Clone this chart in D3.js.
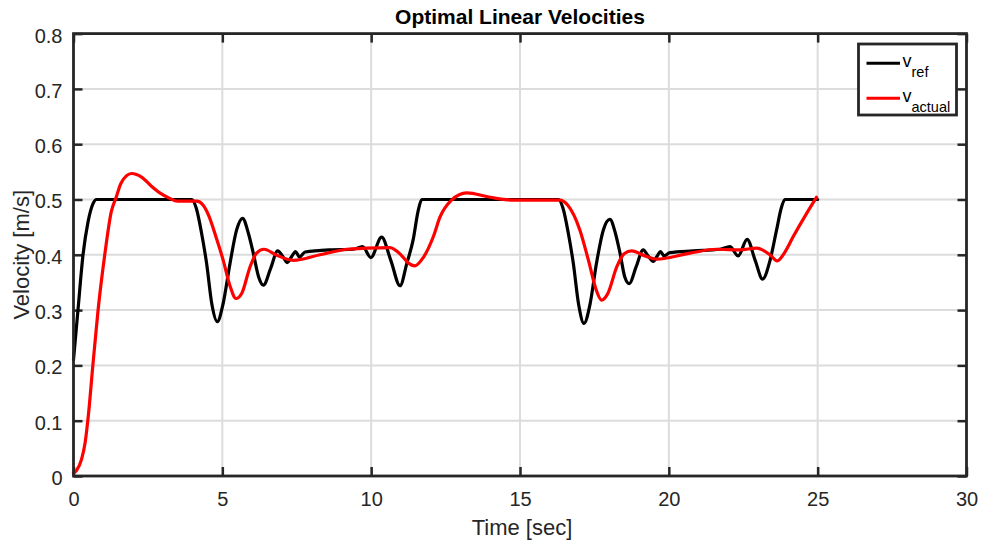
<!DOCTYPE html>
<html>
<head>
<meta charset="utf-8">
<script src="https://cdn.jsdelivr.net/npm/d3@7"></script>
<style>
  html, body { margin: 0; padding: 0; background: #fff; }
  svg { display: block; font-family: "Liberation Sans", Arial, Helvetica, sans-serif; }
</style>
</head>
<body>
<svg id="chart" width="985" height="548"></svg>
<script>
// Reference velocity profile: [time (s), velocity (m/s)]
const vRef = [
  [0, 0.21], [0.15, 0.30], [0.32, 0.40], [0.49, 0.46], [0.66, 0.493], [0.77, 0.5],
  [2.0, 0.5], [3.97, 0.5], [4.12, 0.485], [4.3, 0.44], [4.47, 0.385], [4.65, 0.31], [4.83, 0.279],
  [5.02, 0.31], [5.26, 0.385], [5.48, 0.445], [5.68, 0.466], [5.87, 0.44], [6.04, 0.403],
  [6.22, 0.36], [6.38, 0.345], [6.62, 0.375], [6.86, 0.407], [7.02, 0.398], [7.18, 0.386],
  [7.33, 0.397], [7.46, 0.406], [7.59, 0.396], [7.78, 0.405], [8.62, 0.409], [9.4, 0.41],
  [9.71, 0.415], [9.99, 0.395], [10.35, 0.432], [10.66, 0.39], [10.97, 0.344], [11.2, 0.385],
  [11.41, 0.427], [11.58, 0.48], [11.7, 0.5], [16.29, 0.5], [16.44, 0.485], [16.62, 0.44], [16.79, 0.385],
  [16.97, 0.31], [17.15, 0.276], [17.35, 0.31], [17.57, 0.385], [17.8, 0.445], [18.02, 0.464],
  [18.2, 0.44], [18.36, 0.403], [18.52, 0.36], [18.67, 0.348], [18.9, 0.378], [19.14, 0.409],
  [19.3, 0.398], [19.48, 0.388], [19.6, 0.397], [19.72, 0.406], [19.84, 0.398], [20.04, 0.404],
  [20.82, 0.407], [21.72, 0.41], [22.05, 0.415], [22.33, 0.398], [22.63, 0.428], [22.9, 0.39],
  [23.15, 0.356], [23.4, 0.39], [23.62, 0.445], [23.78, 0.485], [23.9, 0.5], [25, 0.5]
];

// Measured velocity: [time (s), velocity (m/s)]
const vActual = [
  [0, 0.005], [0.1, 0.01], [0.27, 0.03], [0.39, 0.06], [0.5, 0.11], [0.65, 0.20],
  [0.82, 0.297], [1.05, 0.40], [1.27, 0.478], [1.44, 0.505], [1.6, 0.53], [1.95, 0.547],
  [2.3, 0.54], [2.6, 0.525], [2.9, 0.512], [3.2, 0.503], [3.5, 0.497], [3.85, 0.497],
  [4.14, 0.497], [4.35, 0.49], [4.55, 0.47], [4.8, 0.43], [5.03, 0.39], [5.25, 0.345],
  [5.46, 0.321], [5.65, 0.33], [5.93, 0.378], [6.15, 0.403], [6.4, 0.41], [6.8, 0.40],
  [7.38, 0.39], [8.28, 0.40], [9.18, 0.41], [9.85, 0.412], [10.63, 0.413], [11.0, 0.40],
  [11.25, 0.385], [11.47, 0.38], [11.75, 0.395], [12.09, 0.433], [12.31, 0.468], [12.7, 0.499],
  [13.21, 0.512], [14.0, 0.504], [14.77, 0.499], [16.34, 0.499], [16.6, 0.49], [17.01, 0.445],
  [17.3, 0.39], [17.57, 0.335], [17.74, 0.318], [17.95, 0.33], [18.25, 0.378], [18.5, 0.402],
  [18.75, 0.407], [19.2, 0.398], [19.59, 0.392], [20.71, 0.403], [21.6, 0.41], [22.39, 0.409],
  [22.95, 0.412], [23.4, 0.40], [23.64, 0.389], [23.9, 0.405], [24.18, 0.433], [24.63, 0.475],
  [24.96, 0.504]
];

const xTicks = [0, 5, 10, 15, 20, 25, 30];
const yTicks = [0, 0.1, 0.2, 0.3, 0.4, 0.5, 0.6, 0.7, 0.8];
const seriesNames = ["ref", "actual"];
const seriesColors = ["#000000", "#ff0000"];

const plotLeft = 73.5, plotRight = 966.5, plotTop = 33.6, plotBottom = 476;
const svg = d3.select("#chart");
const axisColor = "#262626";

const x = d3.scaleLinear().domain([0, 30]).range([plotLeft, plotRight]);
const y = d3.scaleLinear().domain([0, 0.8]).range([plotBottom, plotTop]);

// grid
const grid = svg.append("g").attr("stroke", "#dcdcdc").attr("stroke-width", 2);
grid.selectAll("line.gx").data(xTicks.slice(1, -1)).enter().append("line")
  .attr("x1", d => x(d)).attr("x2", d => x(d)).attr("y1", plotTop).attr("y2", plotBottom);
grid.selectAll("line.gy").data(yTicks.slice(1, -1)).enter().append("line")
  .attr("x1", plotLeft).attr("x2", plotRight).attr("y1", d => y(d)).attr("y2", d => y(d));

// axes with inward ticks
function styleAxis(g) {
  g.select(".domain").remove();
  g.selectAll(".tick line").attr("stroke", axisColor).attr("stroke-width", 2.5);
  g.selectAll(".tick text").attr("fill", axisColor).style("font-size", "20px")
    .style("font-family", "'Liberation Sans', Arial, sans-serif");
}
svg.append("g").attr("transform", `translate(0,${plotBottom})`)
  .call(d3.axisBottom(x).tickValues(xTicks).tickSize(-9).tickPadding(16).tickFormat(d3.format("d")))
  .call(styleAxis);
svg.append("g").attr("transform", `translate(0,${plotTop})`)
  .call(d3.axisTop(x).tickValues(xTicks).tickSize(-9).tickFormat(""))
  .call(styleAxis);
const yAx = svg.append("g").attr("transform", `translate(${plotLeft},0)`)
  .call(d3.axisLeft(y).tickValues(yTicks).tickSize(-9).tickPadding(11)
    .tickFormat(d => d === 0 ? "0" : d3.format(".1f")(d)))
  .call(styleAxis);
yAx.selectAll(".tick text").attr("dy", "0.42em");
svg.append("g").attr("transform", `translate(${plotRight},0)`)
  .call(d3.axisRight(y).tickValues(yTicks).tickSize(-9).tickFormat(""))
  .call(styleAxis);

// curves
const line = d3.line().x(d => x(d[0])).y(d => y(d[1])).curve(d3.curveMonotoneX);
const plot = svg.append("g");
[vRef, vActual].forEach((data, i) => {
  plot.append("path").datum(data)
    .attr("fill", "none").attr("stroke", seriesColors[i])
    .attr("stroke-width", 3.2).attr("stroke-linejoin", "round").attr("stroke-linecap", "round")
    .attr("d", line);
});

// frame
svg.append("rect").attr("x", plotLeft).attr("y", plotTop)
  .attr("width", plotRight - plotLeft).attr("height", plotBottom - plotTop)
  .attr("fill", "none").attr("stroke", axisColor).attr("stroke-width", 2.8);

// title and axis labels
svg.append("text").attr("x", (plotLeft + plotRight) / 2).attr("y", 24)
  .attr("text-anchor", "middle").style("font-size", "21px").style("font-weight", "bold")
  .attr("fill", "#000").text("Optimal Linear Velocities");
svg.append("text").attr("x", (plotLeft + plotRight) / 2 + 2).attr("y", 535)
  .attr("text-anchor", "middle").style("font-size", "22px").attr("fill", axisColor)
  .text("Time [sec]");
svg.append("text").attr("transform", `translate(29,${(plotTop + plotBottom) / 2}) rotate(-90)`)
  .attr("text-anchor", "middle").style("font-size", "22px").attr("fill", axisColor)
  .text("Velocity [m/s]");

// legend
const lg = svg.append("g");
lg.append("rect").attr("x", 858.5).attr("y", 44).attr("width", 98).attr("height", 71)
  .attr("fill", "#fff").attr("stroke", axisColor).attr("stroke-width", 2.8);
const rowY = [63.3, 98.3];
seriesNames.forEach((name, i) => {
  lg.append("line").attr("x1", 866.5).attr("x2", 900).attr("y1", rowY[i]).attr("y2", rowY[i])
    .attr("stroke", seriesColors[i]).attr("stroke-width", 3);
  const t = lg.append("text").attr("x", 902.5).attr("y", rowY[i] + 3.5)
    .attr("fill", "#000").style("font-size", "18px");
  t.append("tspan").text("v");
  t.append("tspan").attr("dy", 10).style("font-size", "14.5px").text(name);
});
</script>
</body>
</html>
